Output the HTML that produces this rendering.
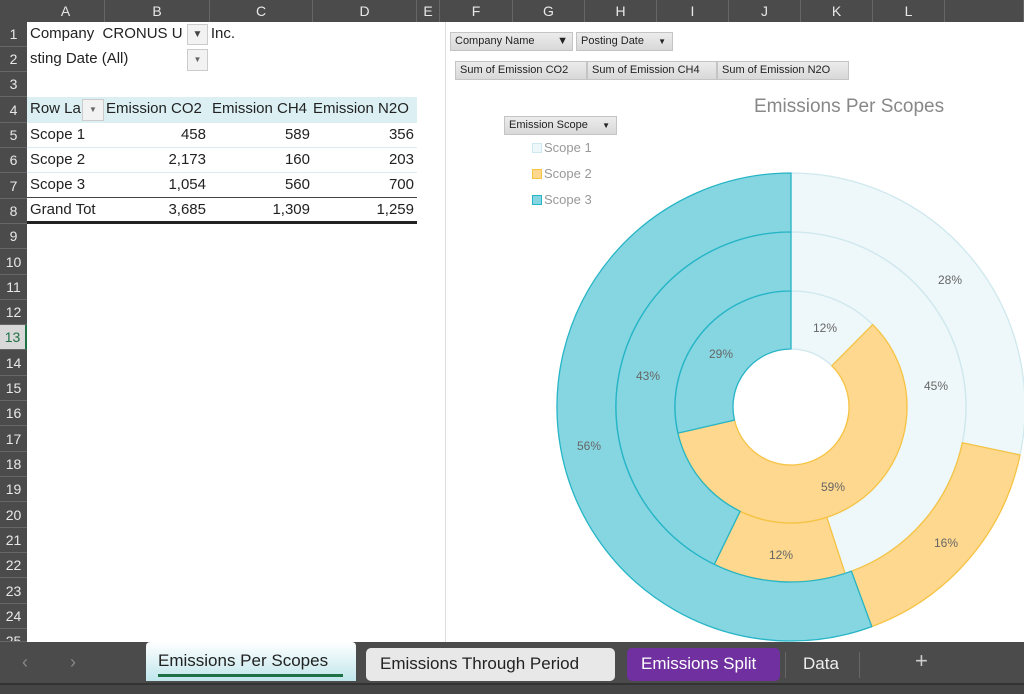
<!DOCTYPE html>
<html><head><meta charset="utf-8"><style>
*{margin:0;padding:0;box-sizing:border-box}
body{width:1024px;height:694px;overflow:hidden;background:#fff;font-family:"Liberation Sans",sans-serif;position:relative}
.abs{position:absolute}
.hdr{left:0;top:0;width:1024px;height:22px;background:#4b4b4b}
.ch{position:absolute;top:0;height:22px;color:#e8e8e8;font-size:14px;text-align:center;line-height:22px;border-right:1px solid #666}
.rh{position:absolute;left:0;width:27px;background:#4b4b4b;color:#e8e8e8;font-size:14px;text-align:center;border-bottom:1px solid #666}
.t{position:absolute;font-size:15px;color:#222;white-space:nowrap}
.btn{position:absolute;background:linear-gradient(#ececec,#d8d8d8);border:1px solid #c4c4c4;font-size:11px;color:#222;line-height:17px;padding-left:4px;white-space:nowrap}
.lab{font-size:12px;fill:#666;font-family:"Liberation Sans",sans-serif}
</style></head><body>
<div class="abs hdr"></div>
<div class="ch" style="left:27px;width:78px">A</div>
<div class="ch" style="left:105px;width:105px">B</div>
<div class="ch" style="left:210px;width:103px">C</div>
<div class="ch" style="left:313px;width:104px">D</div>
<div class="ch" style="left:417px;width:23px">E</div>
<div class="ch" style="left:440px;width:73px">F</div>
<div class="ch" style="left:513px;width:72px">G</div>
<div class="ch" style="left:585px;width:72px">H</div>
<div class="ch" style="left:657px;width:72px">I</div>
<div class="ch" style="left:729px;width:72px">J</div>
<div class="ch" style="left:801px;width:72px">K</div>
<div class="ch" style="left:873px;width:72px">L</div>
<div class="ch" style="left:945px;width:79px"></div>
<div class="rh" style="top:22px;height:25px;line-height:25px">1</div>
<div class="rh" style="top:47px;height:25px;line-height:25px">2</div>
<div class="rh" style="top:72px;height:25px;line-height:25px">3</div>
<div class="rh" style="top:97px;height:26px;line-height:26px">4</div>
<div class="rh" style="top:123px;height:25px;line-height:25px">5</div>
<div class="rh" style="top:148px;height:25px;line-height:25px">6</div>
<div class="rh" style="top:173px;height:26px;line-height:26px">7</div>
<div class="rh" style="top:199px;height:25px;line-height:25px">8</div>
<div class="rh" style="top:224px;height:25px;line-height:25px">9</div>
<div class="rh" style="top:249px;height:26px;line-height:26px">10</div>
<div class="rh" style="top:275px;height:25px;line-height:25px">11</div>
<div class="rh" style="top:300px;height:25px;line-height:25px">12</div>
<div class="rh" style="top:325px;height:25px;line-height:25px;background:#d8d8d8;color:#1e7145;border-right:2px solid #1e7145">13</div>
<div class="rh" style="top:350px;height:26px;line-height:26px">14</div>
<div class="rh" style="top:376px;height:25px;line-height:25px">15</div>
<div class="rh" style="top:401px;height:25px;line-height:25px">16</div>
<div class="rh" style="top:426px;height:26px;line-height:26px">17</div>
<div class="rh" style="top:452px;height:25px;line-height:25px">18</div>
<div class="rh" style="top:477px;height:25px;line-height:25px">19</div>
<div class="rh" style="top:502px;height:26px;line-height:26px">20</div>
<div class="rh" style="top:528px;height:25px;line-height:25px">21</div>
<div class="rh" style="top:553px;height:25px;line-height:25px">22</div>
<div class="rh" style="top:578px;height:26px;line-height:26px">23</div>
<div class="rh" style="top:604px;height:25px;line-height:25px">24</div>
<div class="rh" style="top:629px;height:13px;line-height:25px;overflow:hidden">25</div>

<div class="t" style="left:30px;top:25px">Company&nbsp; CRONUS U<span style="margin-left:20px">, Inc.</span></div>
<div class="abs" style="left:187px;top:24px;width:21px;height:21px;background:#f2f2f2;border:1px solid #ccc;font-size:10px;text-align:center;line-height:19px;color:#444">▼</div>
<div class="t" style="left:30px;top:50px">sting Date (All)</div>
<div class="abs" style="left:187px;top:49px;width:21px;height:22px;background:#f2f2f2;border:1px solid #ccc;font-size:8px;text-align:center;line-height:20px;color:#666">▼</div>
<div class="abs" style="left:27px;top:97px;width:390px;height:26px;background:#dcf0f4"></div>
<div class="t" style="left:30px;top:100px">Row La</div>
<div class="abs" style="left:82px;top:99px;width:22px;height:22px;background:#f2f2f2;border:1px solid #ccc;font-size:8px;text-align:center;line-height:20px;color:#666">▼</div>
<div class="t" style="left:106px;top:100px">Emission CO2</div>
<div class="t" style="left:212px;top:100px">Emission CH4</div>
<div class="t" style="left:313px;top:100px">Emission N2O</div>
<div class="abs" style="left:27px;top:147px;width:390px;height:1px;background:#dcebef"></div>
<div class="abs" style="left:27px;top:172px;width:390px;height:1px;background:#dcebef"></div>
<div class="abs" style="left:27px;top:197px;width:390px;height:1px;background:#444"></div>
<div class="abs" style="left:27px;top:221px;width:390px;height:3px;background:#222"></div>
<div class="t" style="left:30px;top:126px">Scope 1</div>
<div class="t" style="left:30px;top:151px">Scope 2</div>
<div class="t" style="left:30px;top:176px">Scope 3</div>
<div class="t" style="left:30px;top:201px">Grand Tot</div>
<div class="t" style="left:105px;width:101px;text-align:right;top:126px">458</div>
<div class="t" style="left:105px;width:101px;text-align:right;top:151px">2,173</div>
<div class="t" style="left:105px;width:101px;text-align:right;top:176px">1,054</div>
<div class="t" style="left:105px;width:101px;text-align:right;top:201px">3,685</div>
<div class="t" style="left:210px;width:100px;text-align:right;top:126px">589</div>
<div class="t" style="left:210px;width:100px;text-align:right;top:151px">160</div>
<div class="t" style="left:210px;width:100px;text-align:right;top:176px">560</div>
<div class="t" style="left:210px;width:100px;text-align:right;top:201px">1,309</div>
<div class="t" style="left:313px;width:101px;text-align:right;top:126px">356</div>
<div class="t" style="left:313px;width:101px;text-align:right;top:151px">203</div>
<div class="t" style="left:313px;width:101px;text-align:right;top:176px">700</div>
<div class="t" style="left:313px;width:101px;text-align:right;top:201px">1,259</div>

<div class="abs" style="left:445px;top:22px;width:1px;height:620px;background:#ddd"></div>
<div class="btn" style="left:450px;top:32px;width:123px;height:19px">Company Name <span style="float:right;margin-right:4px">▼</span></div>
<div class="btn" style="left:576px;top:32px;width:97px;height:19px">Posting Date <span style="float:right;margin-right:6px;font-size:8px">▼</span></div>
<div class="btn" style="left:455px;top:61px;width:132px;height:19px">Sum of Emission CO2</div>
<div class="btn" style="left:587px;top:61px;width:130px;height:19px">Sum of Emission CH4</div>
<div class="btn" style="left:717px;top:61px;width:132px;height:19px">Sum of Emission N2O</div>
<div class="btn" style="left:504px;top:116px;width:113px;height:19px">Emission Scope <span style="float:right;margin-right:6px;font-size:8px">▼</span></div>
<div class="abs" style="left:754px;top:96px;font-size:19px;color:#888">Emissions Per Scopes</div>
<div class="abs" style="left:532px;top:143px;width:10px;height:10px;background:#eef7f9;border:1px solid #cde8ee"></div>
<div class="abs" style="left:544px;top:140px;font-size:13px;color:#999">Scope 1</div>
<div class="abs" style="left:532px;top:169px;width:10px;height:10px;background:#fdd88e;border:1px solid #f6c343"></div>
<div class="abs" style="left:544px;top:166px;font-size:13px;color:#999">Scope 2</div>
<div class="abs" style="left:532px;top:195px;width:10px;height:10px;background:#86d6e2;border:1px solid #26b5c6"></div>
<div class="abs" style="left:544px;top:192px;font-size:13px;color:#999">Scope 3</div>

<svg class="abs" style="left:0;top:0" width="1024" height="694">
<g stroke-width="1.3" stroke-linejoin="round">
<g fill="#eef7f9" stroke="#cfe8ee">
<path d="M791,173 A234 234 0 0 1 1020.1,454.9 L962.3,442.8 A175 175 0 0 0 791,232 Z"/>
<path d="M791,232 A175 175 0 0 1 845.1,573.4 L826.8,517.3 A116 116 0 0 0 791,291 Z"/>
<path d="M791,291 A116 116 0 0 1 872.7,324.6 L831.8,365.8 A58 58 0 0 0 791,349 Z"/>
</g>
<g fill="#fdd88e" stroke="#f6c343">
<path d="M1020.1,454.9 A234 234 0 0 1 871.8,626.6 L851.4,571.2 A175 175 0 0 0 962.3,442.8 Z"/>
<path d="M845.1,573.4 A175 175 0 0 1 714.3,564.3 L740.1,511.3 A116 116 0 0 0 826.8,517.3 Z"/>
<path d="M872.7,324.6 A116 116 0 1 1 678.0,433.1 L734.5,420.1 A58 58 0 1 0 831.8,365.8 Z"/>
</g>
<g fill="#86d6e2" stroke="#26b5c6">
<path d="M871.8,626.6 A234 234 0 1 1 791,173 L791,232 A175 175 0 1 0 851.4,571.2 Z"/>
<path d="M714.3,564.3 A175 175 0 0 1 791,232 L791,291 A116 116 0 0 0 740.1,511.3 Z"/>
<path d="M678.0,433.1 A116 116 0 0 1 791,291 L791,349 A58 58 0 0 0 734.5,420.1 Z"/>
</g>
</g>
<text class="lab" x="950" y="284" text-anchor="middle">28%</text>
<text class="lab" x="936" y="390" text-anchor="middle">45%</text>
<text class="lab" x="825" y="332" text-anchor="middle">12%</text>
<text class="lab" x="721" y="358" text-anchor="middle">29%</text>
<text class="lab" x="648" y="380" text-anchor="middle">43%</text>
<text class="lab" x="589" y="450" text-anchor="middle">56%</text>
<text class="lab" x="833" y="491" text-anchor="middle">59%</text>
<text class="lab" x="781" y="559" text-anchor="middle">12%</text>
<text class="lab" x="946" y="547" text-anchor="middle">16%</text>
</svg>

<div class="abs" style="left:0;top:642px;width:1024px;height:52px;background:#4b4b4b"></div>
<div class="abs" style="left:0;top:683px;width:1024px;height:11px;background:#454545;border-top:2px solid #333"></div>
<div class="abs" style="left:22px;top:652px;font-size:18px;color:#888">‹</div>
<div class="abs" style="left:70px;top:652px;font-size:18px;color:#888">›</div>
<div class="abs" style="left:146px;top:642px;width:210px;height:39px;background:linear-gradient(#ffffff,#bfe6ec);border-radius:4px 4px 0 0"></div>
<div class="abs" style="left:158px;top:651px;font-size:17px;color:#222">Emissions Per Scopes</div>
<div class="abs" style="left:158px;top:674px;width:185px;height:3px;background:#1e7145"></div>
<div class="abs" style="left:366px;top:648px;width:249px;height:33px;background:#e8e8e8;border-radius:5px"></div>
<div class="abs" style="left:380px;top:654px;font-size:17px;color:#222">Emissions Through Period</div>
<div class="abs" style="left:627px;top:648px;width:153px;height:33px;background:#7030a0;border-radius:5px"></div>
<div class="abs" style="left:641px;top:654px;font-size:17px;color:#fff">Emissions Split</div>
<div class="abs" style="left:785px;top:652px;width:1px;height:26px;background:#666"></div>
<div class="abs" style="left:803px;top:654px;font-size:17px;color:#eee">Data</div>
<div class="abs" style="left:859px;top:652px;width:1px;height:26px;background:#666"></div>
<div class="abs" style="left:915px;top:648px;font-size:22px;color:#ccc">+</div>
</body></html>
